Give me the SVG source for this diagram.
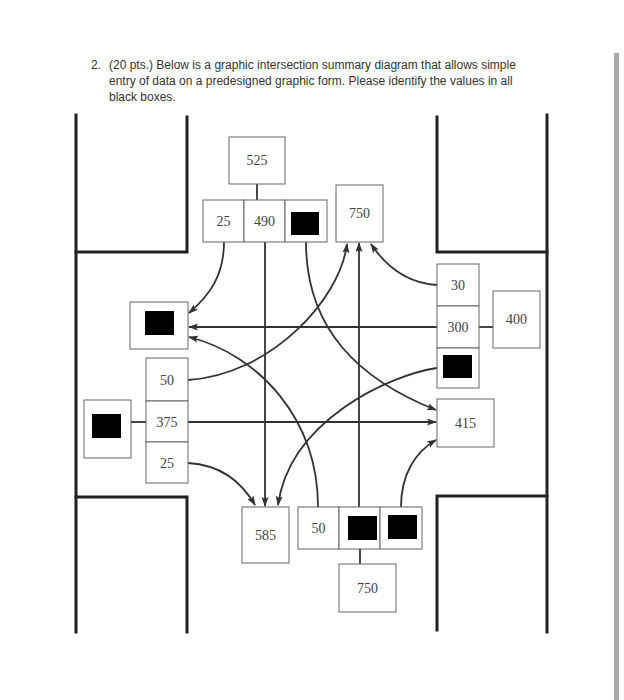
<svg xmlns="http://www.w3.org/2000/svg" width="624" height="700" viewBox="0 0 624 700">
<defs>
<style>
.title{font-family:"Liberation Sans",Arial,sans-serif;font-size:12px;fill:#333}
.road{stroke:#222;stroke-width:3;fill:none;stroke-linecap:square}
.box{fill:#fff;stroke:#666;stroke-width:1}
.blk{fill:#000}
.num{font-family:"Liberation Serif","Times New Roman",serif;font-size:14px;fill:#444;text-anchor:middle}
.con{stroke:#333;stroke-width:1.8;fill:none}
.arr{marker-end:url(#ah)}
.tie{stroke:#333;stroke-width:1.8}
</style>
<marker id="ah" markerUnits="userSpaceOnUse" markerWidth="10" markerHeight="8" refX="9" refY="3.5" orient="auto">
<path d="M0,0 L10,3.5 L0,7 L2,3.5 z" fill="#333"/>
</marker>
</defs>
<rect width="624" height="700" fill="#fff"/>
<rect x="614" y="53" width="5" height="647" fill="#aaa"/>
<g id="title">
<text class="title" x="91" y="69">2.</text>
<text class="title" x="109" y="69">(20 pts.) Below is a graphic intersection summary diagram that allows simple</text>
<text class="title" x="109" y="85">entry of data on a predesigned graphic form. Please identify the values in all</text>
<text class="title" x="109" y="101">black boxes.</text>
</g>
<g id="roads">
<path class="road" d="M76,115 V632"/>
<path class="road" d="M187,117 V252 H76"/>
<path class="road" d="M76,497 H187 V632"/>
<path class="road" d="M547,115 V632"/>
<path class="road" d="M437,117 V252 H547"/>
<path class="road" d="M547,496 H437 V630"/>
</g>
<g id="connectors">
<line class="tie" x1="257" y1="184" x2="257" y2="200"/>
<line class="tie" x1="131" y1="422" x2="146" y2="422"/>
<line class="tie" x1="479" y1="327" x2="493" y2="327"/>
<line class="tie" x1="360" y1="549" x2="360" y2="564"/>
<path class="con arr" d="M224,242 C224,275 210,295 189,313"/>
<path class="con arr" d="M265,242 V506"/>
<path class="con arr" d="M306,242 C306,330 360,380 436,410"/>
<path class="con arr" d="M437,327 H189"/>
<path class="con arr" d="M437,285 C405,283 385,265 371,244"/>
<path class="con arr" d="M359,507 V243"/>
<path class="con arr" d="M188,380 C270,375 340,300 347,244"/>
<path class="con arr" d="M188,422 H436"/>
<path class="con arr" d="M188,463 C220,465 240,480 255,505"/>
<path class="con arr" d="M437,368 C390,375 290,420 278,505"/>
<path class="con arr" d="M318,507 C318,420 260,355 189,337"/>
<path class="con arr" d="M401,507 C401,475 415,452 436,440"/>
</g>
<g id="n525"><rect class="box" x="229" y="137" width="56" height="47"/><text class="num" x="257" y="165">525</text></g>
<g id="top-row">
<rect class="box" x="203" y="200" width="41" height="42"/><text class="num" x="223.5" y="226">25</text>
<rect class="box" x="244" y="200" width="41" height="42"/><text class="num" x="264.5" y="226">490</text>
<rect class="box" x="285" y="200" width="42" height="42"/><rect class="blk" x="291" y="212" width="28" height="23"/>
</g>
<g id="n750top"><rect class="box" x="336" y="185" width="47" height="57"/><text class="num" x="359.5" y="218">750</text></g>
<g id="left-out"><rect class="box" x="130" y="302" width="58" height="47"/><rect class="blk" x="145" y="311" width="29" height="24"/></g>
<g id="left-col">
<rect class="box" x="146" y="358" width="42" height="43"/><text class="num" x="167" y="385">50</text>
<rect class="box" x="146" y="401" width="42" height="41"/><text class="num" x="167" y="427">375</text>
<rect class="box" x="146" y="442" width="42" height="41"/><text class="num" x="167" y="468">25</text>
</g>
<g id="left-in"><rect class="box" x="84" y="400" width="47" height="58"/><rect class="blk" x="92" y="414" width="29" height="24"/></g>
<g id="right-col">
<rect class="box" x="437" y="264" width="42" height="42"/><text class="num" x="458" y="290">30</text>
<rect class="box" x="437" y="306" width="42" height="42"/><text class="num" x="458" y="332">300</text>
<rect class="box" x="437" y="348" width="42" height="40"/><rect class="blk" x="443" y="355" width="29" height="23"/>
</g>
<g id="n400"><rect class="box" x="493" y="291" width="47" height="57"/><text class="num" x="516.5" y="324">400</text></g>
<g id="n415"><rect class="box" x="437" y="399" width="57" height="48"/><text class="num" x="465.5" y="428">415</text></g>
<g id="n585"><rect class="box" x="242" y="507" width="47" height="56"/><text class="num" x="265.5" y="540">585</text></g>
<g id="bottom-row">
<rect class="box" x="298" y="507" width="41" height="42"/><text class="num" x="318.5" y="533">50</text>
<rect class="box" x="339" y="507" width="41" height="42"/><rect class="blk" x="348" y="516" width="29" height="24"/>
<rect class="box" x="380" y="507" width="42" height="42"/><rect class="blk" x="388" y="515" width="29" height="24"/>
</g>
<g id="n750bot"><rect class="box" x="339" y="564" width="57" height="48"/><text class="num" x="367.5" y="593">750</text></g>
</svg>
